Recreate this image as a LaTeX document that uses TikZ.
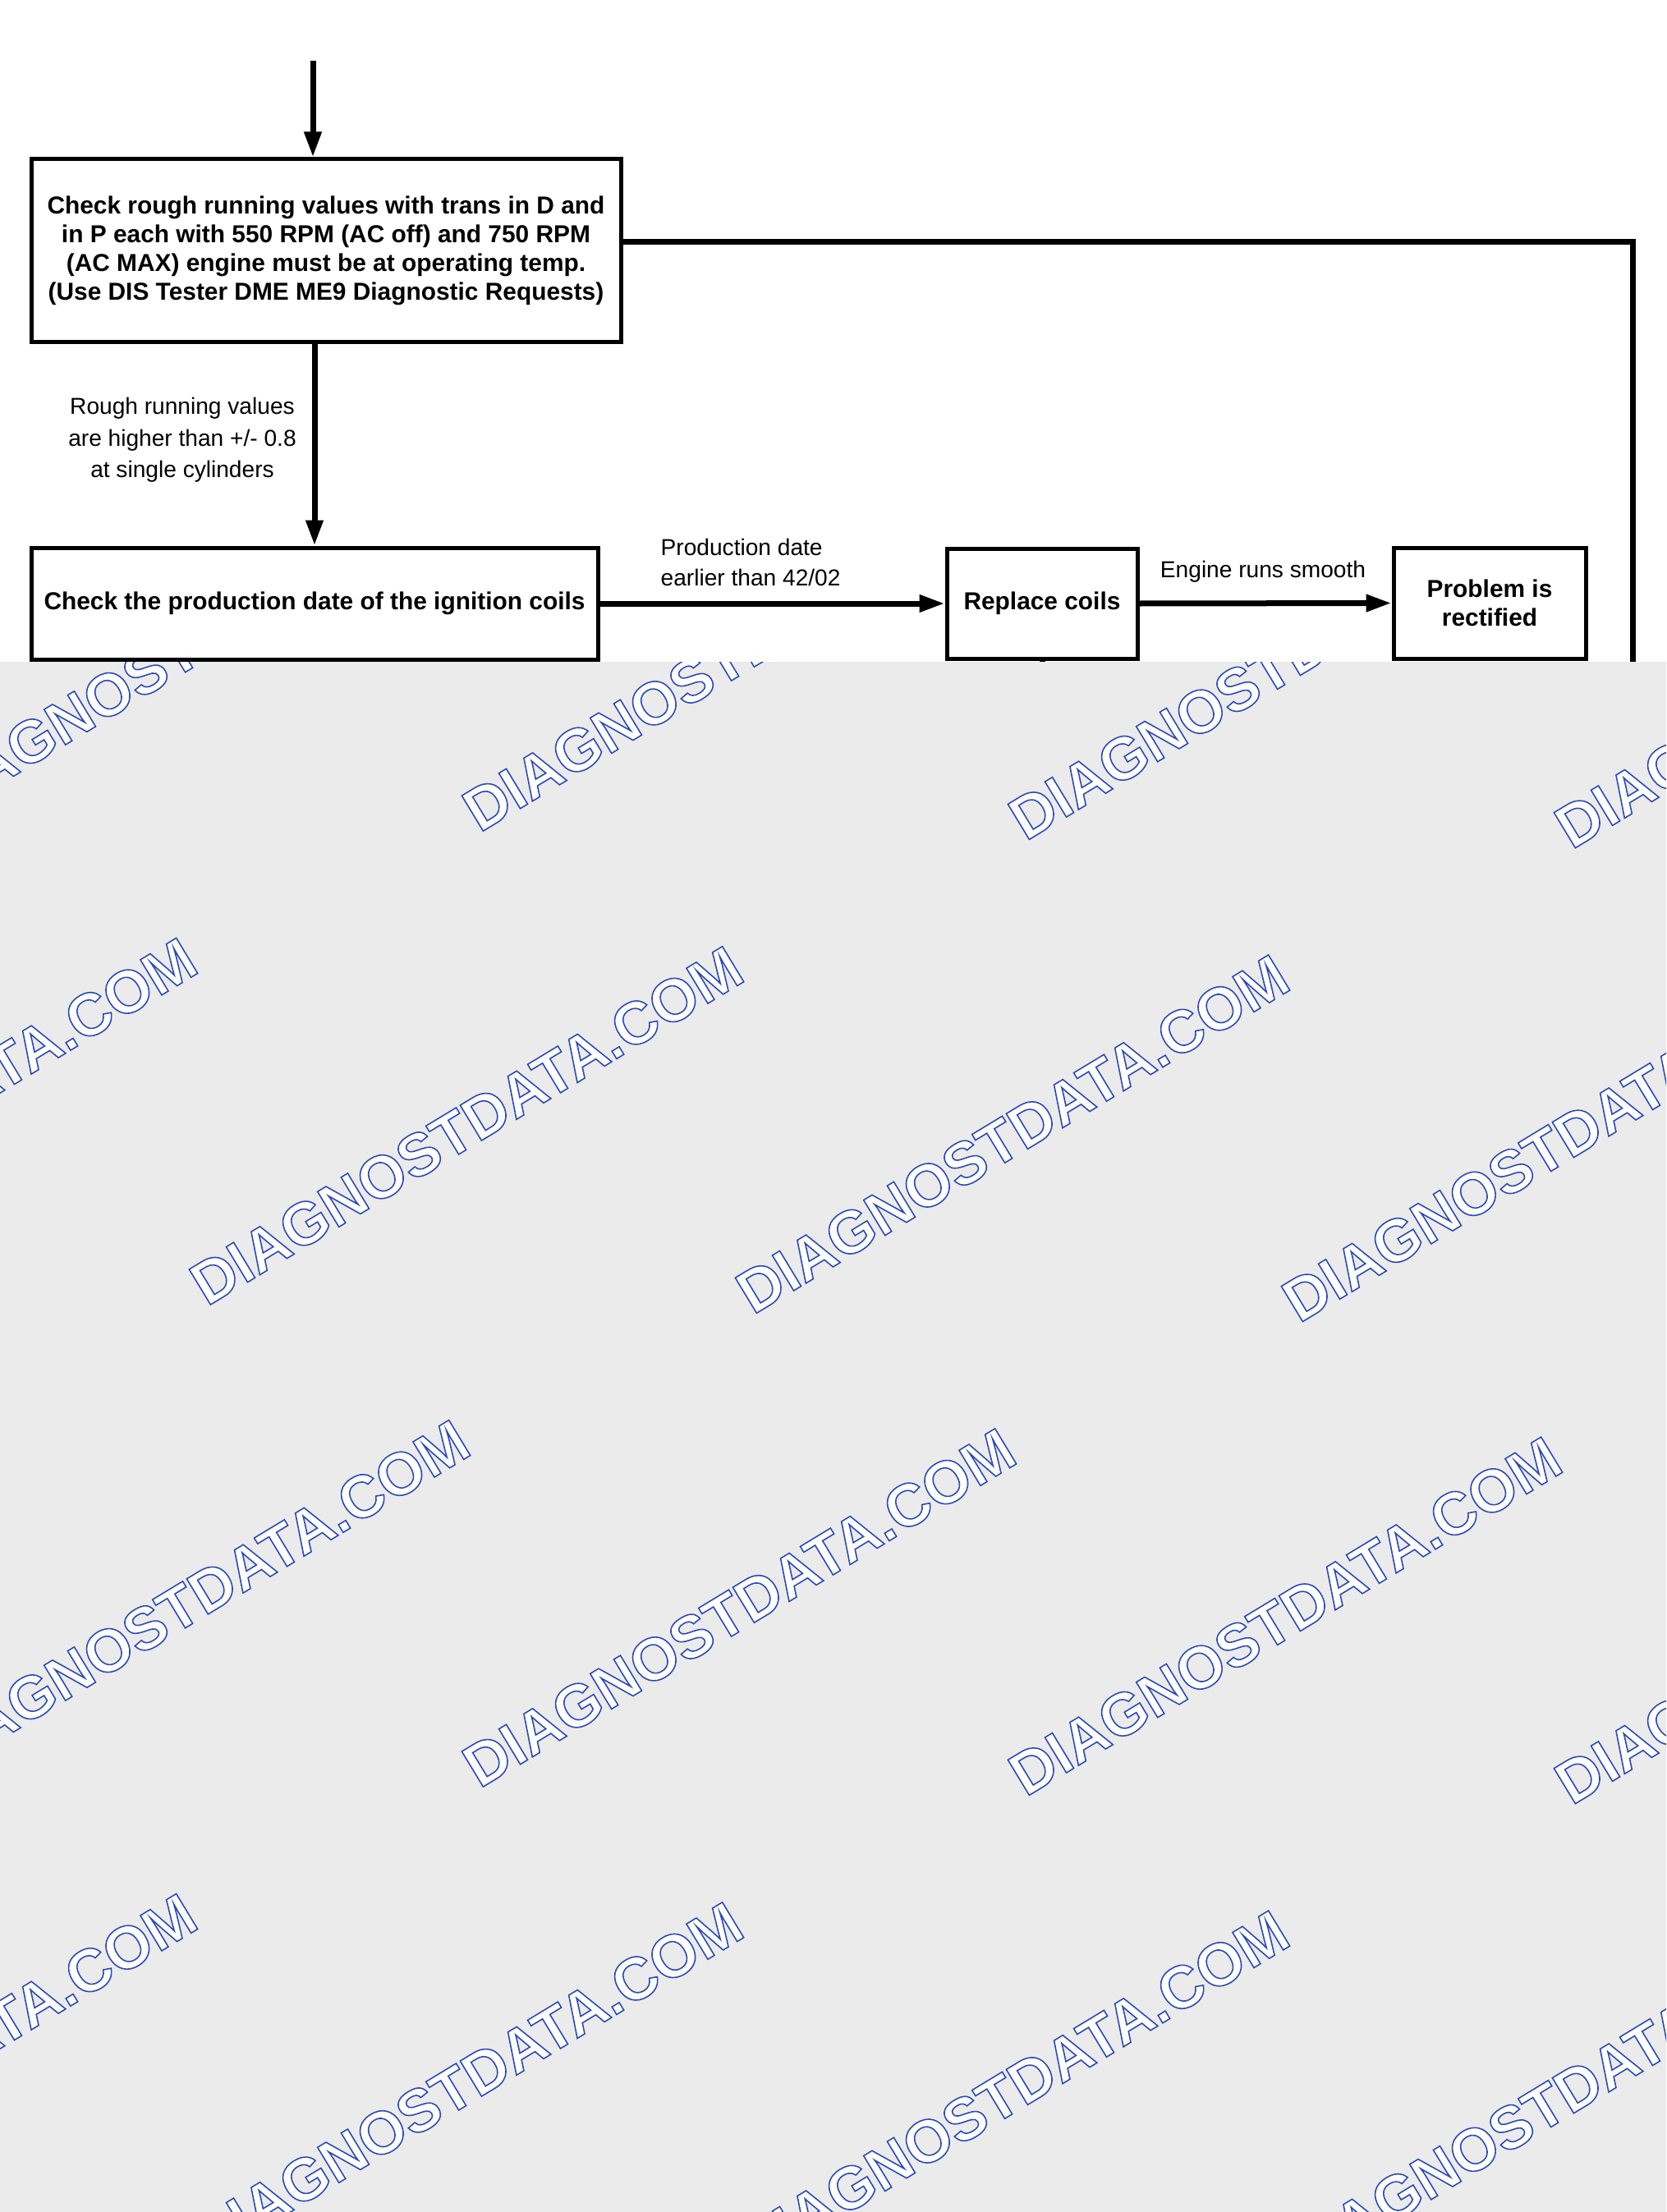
\documentclass[tikz,border=0pt]{standalone}
\usepackage{fontspec}
\setmainfont{Liberation Sans}
\usetikzlibrary{arrows.meta}

\tikzset{
  stepbox/.style={draw, line width=0.05cm, align=center, inner sep=0pt,
    font=\bfseries\fontsize{8.5}{10}\selectfont},
  flowline/.style={line width=0.07cm, line join=miter},
  flowarrow/.style={flowline, -{Triangle[length=0.31cm,width=0.2cm]}},
  steplabel/.style={inner sep=0pt, font=\fontsize{8}{11}\selectfont},
  watermark/.style={inner sep=0pt, rotate=31.2, text=white,
    font=\bfseries\fontsize{20.8}{24}\selectfont}
}

\newcommand{\outlinetext}[1]{%
  \special{pdf:literal direct 0.17 0.29 0.72 RG 0.45 w 2 Tr}#1\special{pdf:literal direct 0 Tr}}

\begin{document}
\begin{tikzpicture}
  \useasboundingbox (0,0) rectangle (20.29,-26.94);

  % Changing color 235 235 235
  \definecolor{r235g235b235}{rgb}{0.921569,0.921569,0.921569}%

  % Boxes
  \node[stepbox, minimum width=7.18cm, minimum height=2.23cm] (checkrough) at (3.97,-3.055)
    {Check rough running values with trans in D and\\
     in P each with 550 RPM (AC off) and 750 RPM\\
     (AC MAX) engine must be at operating temp.\\
     (Use DIS Tester DME ME9 Diagnostic Requests)};
  \node[stepbox, minimum width=6.90cm, minimum height=1.36cm] (checkdate) at (3.83,-7.35)
    {Check the production date of the ignition coils};
  \node[stepbox, minimum width=2.32cm, minimum height=1.34cm] (replacecoils) at (12.69,-7.35)
    {Replace coils};
  \node[stepbox, minimum width=2.34cm, minimum height=1.35cm] (rectified) at (18.14,-7.345)
    {Problem is\\rectified};

  % Free ends
  \coordinate (entry) at (3.81,-0.74);
  \coordinate (loopcorner) at (19.88,-2.95);
  \coordinate (loopend) at (19.88,-9.00);
  \coordinate (coilsend) at (12.69,-9.00);

  % Drawing connectors
  \draw[flowarrow] (entry) -- (entry |- checkrough.north);
  \draw[flowarrow] (checkrough.south -| checkdate.north) -- (checkdate.north);
  \draw[flowarrow] (checkdate.east) -- (replacecoils.west);
  \draw[flowarrow] (replacecoils.east) -- (rectified.west);
  \draw[flowline] (checkrough.east |- loopcorner) -- (loopcorner) -- (loopend);
  \draw[flowline] (replacecoils.south) -- (coilsend);

  % Labels
  \node[steplabel, align=center] (roughlabel) at (2.22,-5.36)
    {Rough running values\\are higher than +/- 0.8\\at single cylinders};
  \node[steplabel, align=left, anchor=west, font=\fontsize{8}{10.3}\selectfont] (datelabel) at (8.04,-6.85)
    {Production date\\earlier than 42/02};
  \node[steplabel] (smoothlabel) at (15.38,-6.96) {Engine runs smooth};

  % Filling covered area
  \fill[r235g235b235] (0,-8.06) rectangle (20.29,-26.94);

  % Watermark
  \begin{scope}
    \clip (0,-8.06) rectangle (20.29,-26.94);
    \foreach \r in {0,...,3} {
      \foreach \k in {-1,...,3} {
        \pgfmathsetmacro{\wx}{(mod(\r,2)==0 ? 2.35 : 5.68) + 6.65*\k}
        \pgfmathsetmacro{\wy}{-7.80 - 5.82*\r - 0.0155*\wx}
        \node[watermark] (wm-\r-\k) at (\wx,\wy) {\outlinetext{DIAGNOSTDATA.COM}};
      }
    }
  \end{scope}
\end{tikzpicture}
\end{document}
